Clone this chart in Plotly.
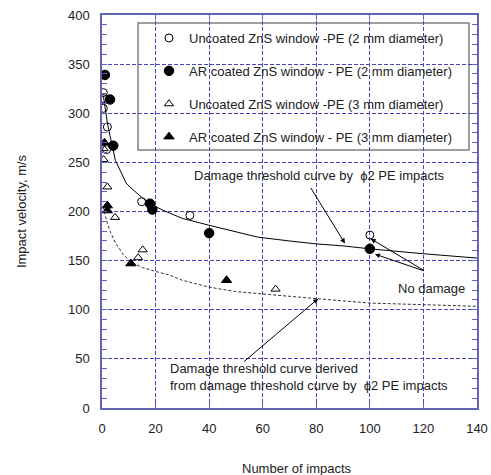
import plotly.graph_objects as go

# ---- data ----
unc2_x = [0.5, 0.5, 0.5, 2.0, 1.7, 14.8, 32.8, 100]
unc2_y = [321, 315, 305, 286, 263, 210, 196, 176]

ar2_x = [1.1, 3.0, 4.2, 17.9, 18.8, 40, 100]
ar2_y = [339, 314, 267, 208, 202, 178, 162]

unc3_x = [0.6, 0.6, 2.0, 4.9, 15.2, 13.5, 64.8]
unc3_y = [264, 253, 225, 194, 161, 153, 121]

ar3_x = [0.9, 2.0, 2.0, 10.8, 46.5]
ar3_y = [270, 206, 201, 147, 130]

curve2_x = [0.5, 1, 2, 3, 5, 9, 10.4, 15, 20, 23, 30, 40, 50, 58, 70, 80, 90, 100, 120, 140]
curve2_y = [318, 308, 290, 277, 252, 229, 225, 214, 205, 201, 193, 186, 179, 174, 170, 167, 165, 162, 157, 152.6]

curve3_x = [0.5, 1, 2, 3, 5, 8, 11, 15, 20, 25, 30, 40, 50, 60, 70, 80, 100, 120, 140]
curve3_y = [205, 198, 188, 180, 168, 156, 148.5, 143, 139, 135.5, 130, 123, 118.5, 116, 113.5, 111.3, 106.8, 105, 103.5]

names = [
    "Uncoated ZnS window -PE (2 mm diameter)",
    "AR coated ZnS window - PE (2 mm diameter)",
    "Uncoated ZnS window -PE (3 mm diameter)",
    "AR coated ZnS window - PE (3 mm diameter)",
]

FONT = "Liberation Sans, Arial, sans-serif"
AXC = "#6464b4"
GRIDC = "#4646be"

fig = go.Figure()

fig.add_trace(go.Scatter(x=curve2_x, y=curve2_y, mode="lines",
                         line=dict(color="black", width=1), showlegend=False, hoverinfo="skip"))
fig.add_trace(go.Scatter(x=curve3_x, y=curve3_y, mode="lines",
                         line=dict(color="#333333", width=1, dash="3px,2px"), showlegend=False, hoverinfo="skip"))

series = [
    (unc2_x, unc2_y, "circle-open", 8),
    (ar2_x, ar2_y, "circle", 9.5),
    (unc3_x, unc3_y, "triangle-up-open", 8),
    (ar3_x, ar3_y, "triangle-up", 9),
]
for i, (xs, ys, sym, sz) in enumerate(series):
    fig.add_trace(go.Scatter(x=xs, y=ys, mode="markers", name=names[i],
                             legendgroup=f"g{i}",
                             marker=dict(symbol=sym, size=sz, color="black",
                                         line=dict(color="black", width=1))))

# legend box
def px_x(p):
    return (p - 102) / 375.0

def px_y(p):
    return (408 - p) / 393.0

fig.add_shape(type="rect", xref="paper", yref="paper",
              x0=px_x(138), x1=px_x(469), y0=px_y(150), y1=px_y(23),
              line=dict(color="#808080", width=1.5), fillcolor="white", layer="between")

anns = [
    dict(x=33.6, y=236.7, text="Damage threshold curve by  \u03d52 PE impacts",
         xanchor="left", yanchor="middle", showarrow=False),
    dict(x=109.9, y=121.5, text="No damage", xanchor="left", yanchor="middle", showarrow=False),
    dict(x=24.7, y=31.5, text="Damage threshold curve derived<br>from damage threshold curve by  \u03d52 PE impacts",
         xanchor="left", yanchor="middle", align="left", showarrow=False),
    # arrows
    dict(x=90.7, y=167.5, ax=77.6, ay=225.5, text=""),
    dict(x=100.3, y=172.3, ax=120.8, ay=139, text=""),
    dict(x=101.9, y=156.6, ax=120.8, ay=139, text=""),
    dict(x=80.7, y=111.3, ax=52.5, ay=46, text=""),
]
for a in anns:
    if a.get("text") == "":
        a.update(showarrow=True, axref="x", ayref="y", arrowhead=2, arrowsize=1,
                 arrowwidth=1, arrowcolor="black")
    a.update(xref="x", yref="y", font=dict(family=FONT, size=13, color="#222222"))
    fig.add_annotation(**a)

fig.add_annotation(x=px_x(297), y=px_y(468), xref="paper", yref="paper",
                   text="Number of impacts", showarrow=False,
                   xanchor="center", yanchor="middle",
                   font=dict(family=FONT, size=13, color="#222222"))

fig.update_xaxes(range=[0, 140], dtick=20, tick0=0, showgrid=True,
                 gridcolor=GRIDC, griddash="4px,2px", gridwidth=1,
                 showline=True, linecolor=AXC, linewidth=1.5, mirror="ticks",
                 ticks="inside", ticklen=5, tickcolor=AXC, zeroline=False,
                 ticklabelstandoff=8, automargin=False,
                 tickfont=dict(family=FONT, size=13, color="#222222"))
fig.update_yaxes(range=[0, 400], dtick=50, tick0=0, showgrid=True,
                 gridcolor=GRIDC, griddash="4px,2px", gridwidth=1,
                 showline=True, linecolor=AXC, linewidth=1.5, mirror="ticks",
                 ticks="inside", ticklen=5, tickcolor=AXC, zeroline=False,
                 minor=dict(dtick=10, ticks="inside", ticklen=5, tickcolor=AXC, showgrid=False),
                 ticklabelstandoff=8, automargin=False,
                 title=dict(text="Impact velocity, m/s", standoff=38,
                            font=dict(family=FONT, size=13, color="#222222")),
                 tickfont=dict(family=FONT, size=13, color="#222222"))

fig.update_layout(
    width=491, height=475,
    margin=dict(l=102, r=14, t=15, b=67),
    paper_bgcolor="white", plot_bgcolor="white",
    font=dict(family=FONT, size=13, color="#222222"),
    showlegend=True,
    legend=dict(x=px_x(149), y=px_y(23), xanchor="left", yanchor="top",
                bgcolor="rgba(0,0,0,0)", borderwidth=0, tracegroupgap=13,
                font=dict(family=FONT, size=13, color="#222222")),
)

fig.write_html("out.html", config={"displayModeBar": False},
               post_script="document.body.style.margin='0';document.body.style.overflow='hidden';")
